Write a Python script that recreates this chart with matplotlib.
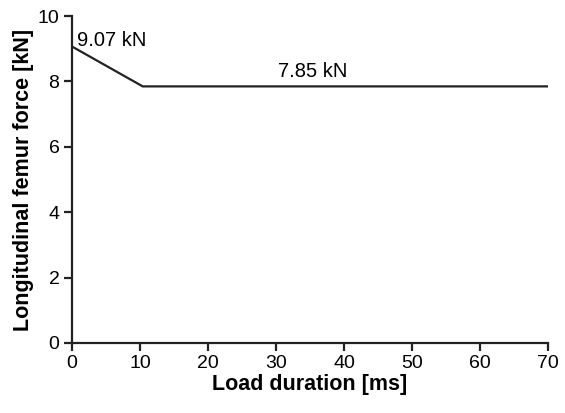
import matplotlib.pyplot as plt

plt.rcParams['font.family'] = ['Liberation Sans', 'DejaVu Sans']

# load curve: peak force decaying to the plateau
time_ms = [0, 10.4, 70]
force_kn = [9.07, 7.85, 7.85]
peak_label = '9.07 kN'
plateau_label = '7.85 kN'

fig = plt.figure(figsize=(5.65, 4.13), dpi=100)
ax = fig.add_axes([0.1274, 0.1695, 0.8426, 0.7915])

ax.plot(time_ms, force_kn, color='#222222', lw=1.6, solid_joinstyle='miter')

ax.text(0.7, force_kn[0] + 0.02, peak_label, fontsize=14.5, ha='left', va='baseline')
ax.text(30.3, force_kn[1] + 0.28, plateau_label, fontsize=14.5, ha='left', va='baseline')

ax.set_xlim(0, 70)
ax.set_ylim(0, 10)
ax.set_xticks(range(0, 71, 10))
ax.set_yticks(range(0, 11, 2))
ax.spines[['top', 'right']].set_visible(False)
for s in ('left', 'bottom'):
    ax.spines[s].set_linewidth(1.6)
    ax.spines[s].set_color('#222222')
ax.tick_params(direction='out', length=6, width=1.6, color='#222222',
               labelsize=14, pad=3)

ax.set_xlabel('Load duration [ms]', fontsize=15.5, fontweight='bold', labelpad=1)
ax.set_ylabel('Longitudinal femur force [kN]', fontsize=15.5, fontweight='bold', labelpad=3)

fig.savefig('out.png', dpi=100)
